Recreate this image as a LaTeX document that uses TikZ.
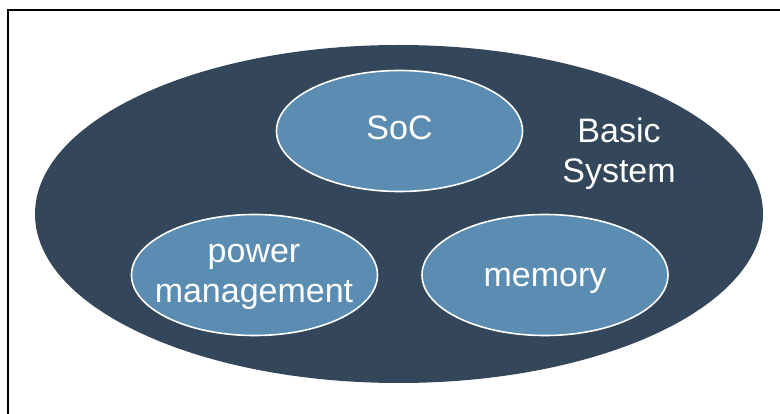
\documentclass[tikz,border=0pt]{standalone}
\usepackage{fontspec}
\setmainfont{Liberation Sans}
\usetikzlibrary{shapes.geometric}
\definecolor{systemfill}{HTML}{34465A}
\definecolor{partfill}{HTML}{5B8CB2}
\tikzset{
  system/.style={ellipse, fill=systemfill, inner sep=0pt},
  part/.style={ellipse, fill=partfill, draw=white, line width=1.6pt, inner sep=0pt,
    minimum width=246pt, minimum height=121pt},
  label/.style={text=white, font=\fontsize{34}{40}\selectfont, inner sep=0pt, align=center}
}
\begin{document}
\begin{tikzpicture}[x=1pt, y=-1pt]
  \useasboundingbox (0,0) rectangle (780,414);
  \clip (0,0) rectangle (780,414);
  % frame, open on the right and bottom
  \coordinate (frameBL) at (7.7,430);
  \coordinate (frameTR) at (800,10);
  \draw[line width=2pt] (frameBL) |- (frameTR);
  % whole system
  \node[system, minimum width=728pt, minimum height=338pt] (sys) at (399,214) {};
  % base anchor of a two-line label sits on its last line
  \node[label, anchor=base] (sysname) at (619,183) {Basic\\System};
  % components
  \node[part] (soc) at (399.5,131) {};
  \node[part] (pwr) at (254.5,275) {};
  \node[part] (mem) at (545,275) {};
  \node[label, anchor=base] (soctext) at (399.5,140) {SoC};
  \node[label, anchor=base] (pwrtext) at (254,303) {power\\management};
  \node[label, anchor=base] (memtext) at (545,287) {memory};
\end{tikzpicture}
\end{document}
